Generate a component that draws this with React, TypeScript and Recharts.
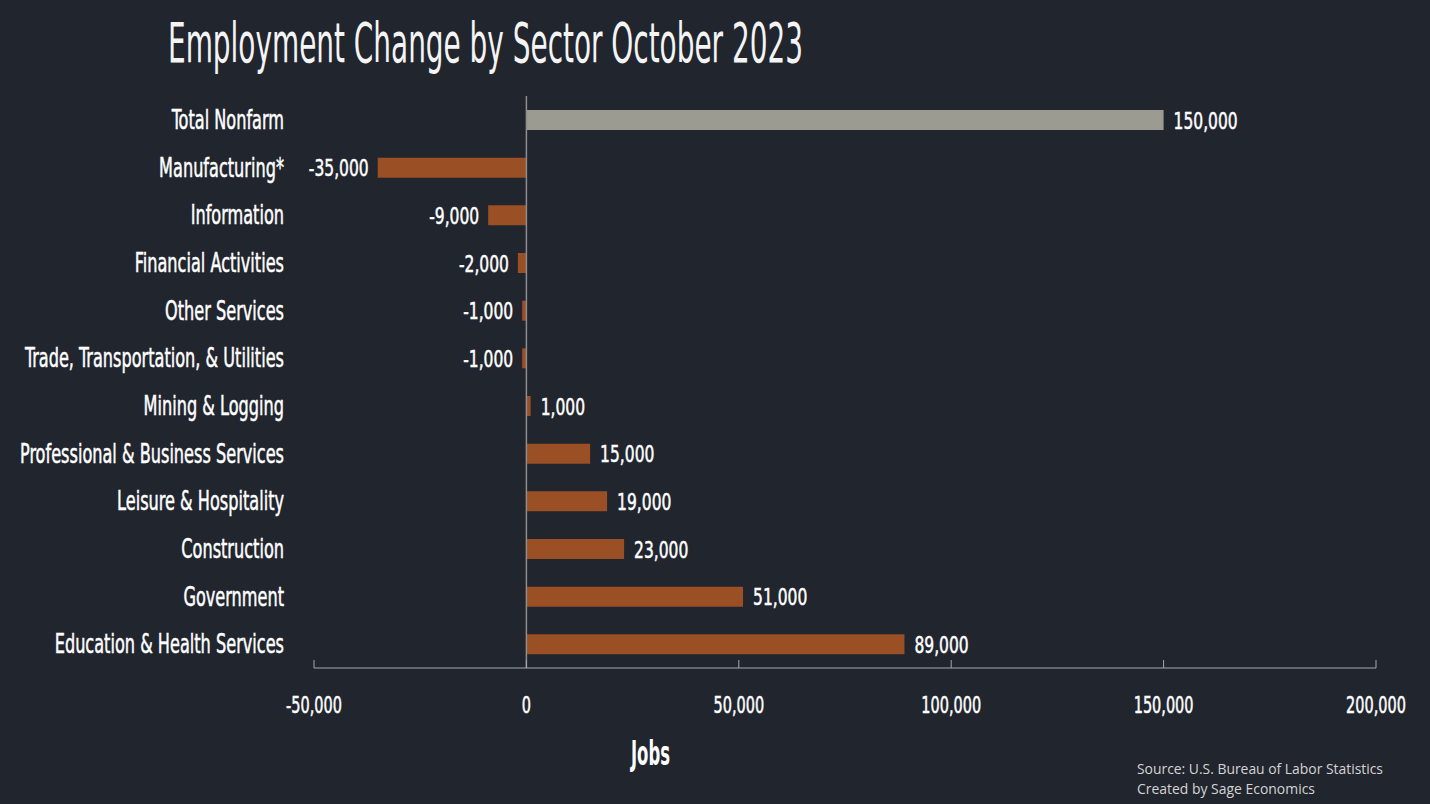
import React from 'react';
import { BarChart, Bar, XAxis, YAxis, Cell, LabelList, ReferenceLine } from 'recharts';

const categories = [
  'Total Nonfarm',
  'Manufacturing*',
  'Information',
  'Financial Activities',
  'Other Services',
  'Trade, Transportation, & Utilities',
  'Mining & Logging',
  'Professional & Business Services',
  'Leisure & Hospitality',
  'Construction',
  'Government',
  'Education & Health Services',
];
const jobChanges = [150000, -35000, -9000, -2000, -1000, -1000, 1000, 15000, 19000, 23000, 51000, 89000];
const xTicks = [-50000, 0, 50000, 100000, 150000, 200000];
const chartTitle = 'Employment Change by Sector October 2023';
const axisTitle = 'Jobs';
const sourceLines = ['Source: U.S. Bureau of Labor Statistics', 'Created by Sage Economics'];

const data = categories.map((name, i) => ({ name, value: jobChanges[i] }));

const FONT = '"Liberation Sans Narrow", "DejaVu Sans Condensed", "Roboto", sans-serif';
const BG = '#21252e';
const ORANGE = '#9a4f25';
const GRAY = '#9b9b92';
const TEXT = '#ffffff';

const fmt = (v: number) => Number(v).toLocaleString('en-US');

const CategoryTick = (props: any) => {
  const { x, y, payload } = props;
  return (
    <text
      transform={`translate(${Number(x) - 30},${Number(y) + 9}) scale(0.69,1)`}
      textAnchor="end"
      fill={TEXT}
      stroke={TEXT}
      strokeWidth={0.5}
      fontSize={26}
      fontFamily={FONT}
    >
      {payload.value}
    </text>
  );
};

const ValueTick = (props: any) => {
  const { x, y, payload } = props;
  return (
    <text
      transform={`translate(${Number(x)},${Number(y) + 53}) scale(0.7,1)`}
      textAnchor="middle"
      fill={TEXT}
      stroke={TEXT}
      strokeWidth={0.5}
      fontSize={23}
      fontFamily={FONT}
    >
      {fmt(payload.value)}
    </text>
  );
};

const BarValueLabel = (props: any) => {
  const x = Number(props.x);
  const y = Number(props.y);
  const width = Number(props.width);
  const height = Number(props.height);
  const value = Number(props.value);
  const left = Math.min(x, x + width);
  const right = Math.max(x, x + width);
  const neg = value < 0;
  const tx = neg ? left - 9 : right + 10;
  const ty = y + height / 2 + 8.5;
  return (
    <text
      transform={`translate(${tx},${ty}) scale(0.75,1)`}
      textAnchor={neg ? 'end' : 'start'}
      fill={TEXT}
      stroke={TEXT}
      strokeWidth={0.5}
      fontSize={23}
      fontFamily={FONT}
    >
      {fmt(value)}
    </text>
  );
};

export default function App() {
  return (
    <div
      style={{
        position: 'absolute',
        left: 0,
        top: 0,
        width: 1430,
        height: 804,
        background: BG,
        overflow: 'hidden',
      }}
    >
      <BarChart
        width={1430}
        height={804}
        data={data}
        layout="vertical"
        margin={{ top: 96, right: 54, bottom: 76, left: 0 }}
        barSize={20}
      >
        <XAxis
          type="number"
          domain={[-50000, 200000]}
          ticks={xTicks}
          interval={0}
          stroke="#a8a8a8"
          axisLine={{ stroke: '#a8a8a8', strokeWidth: 1 }}
          tickLine={{ stroke: '#a8a8a8', strokeWidth: 1 }}
          tickSize={-8}
          tickMargin={0}
          tick={<ValueTick />}
          height={60}
        />
        <YAxis
          type="category"
          dataKey="name"
          width={314}
          axisLine={false}
          tickLine={false}
          tickSize={0}
          tickMargin={0}
          interval={0}
          tick={<CategoryTick />}
        />
        <Bar dataKey="value" isAnimationActive={false}>
          {data.map((d) => (
            <Cell key={d.name} fill={d.name === 'Total Nonfarm' ? GRAY : ORANGE} />
          ))}
          <LabelList dataKey="value" content={<BarValueLabel />} />
        </Bar>
        <ReferenceLine x={0} stroke="#8e8e8e" strokeWidth={1.5} />
      </BarChart>
      <svg
        width={1430}
        height={804}
        style={{ position: 'absolute', left: 0, top: 0, pointerEvents: 'none' }}
      >
        <text
          x={168}
          y={62}
          fontSize={56}
          fontFamily={FONT}
          fill="#f4f4f4"
          textLength={635}
          lengthAdjust="spacingAndGlyphs"
        >
          {chartTitle}
        </text>
        <text
          x={631}
          y={765}
          fontSize={34}
          fontFamily={FONT}
          fontWeight="bold"
          fill={TEXT}
          textLength={39}
          lengthAdjust="spacingAndGlyphs"
        >
          {axisTitle}
        </text>
        <text
          x={1137}
          y={774}
          fontSize={15}
          fontFamily='"Open Sans", sans-serif'
          fill="#d4d4d4"
          textLength={246}
          lengthAdjust="spacingAndGlyphs"
        >
          {sourceLines[0]}
        </text>
        <text
          x={1137}
          y={794}
          fontSize={15}
          fontFamily='"Open Sans", sans-serif'
          fill="#d4d4d4"
          textLength={178}
          lengthAdjust="spacingAndGlyphs"
        >
          {sourceLines[1]}
        </text>
      </svg>
    </div>
  );
}
